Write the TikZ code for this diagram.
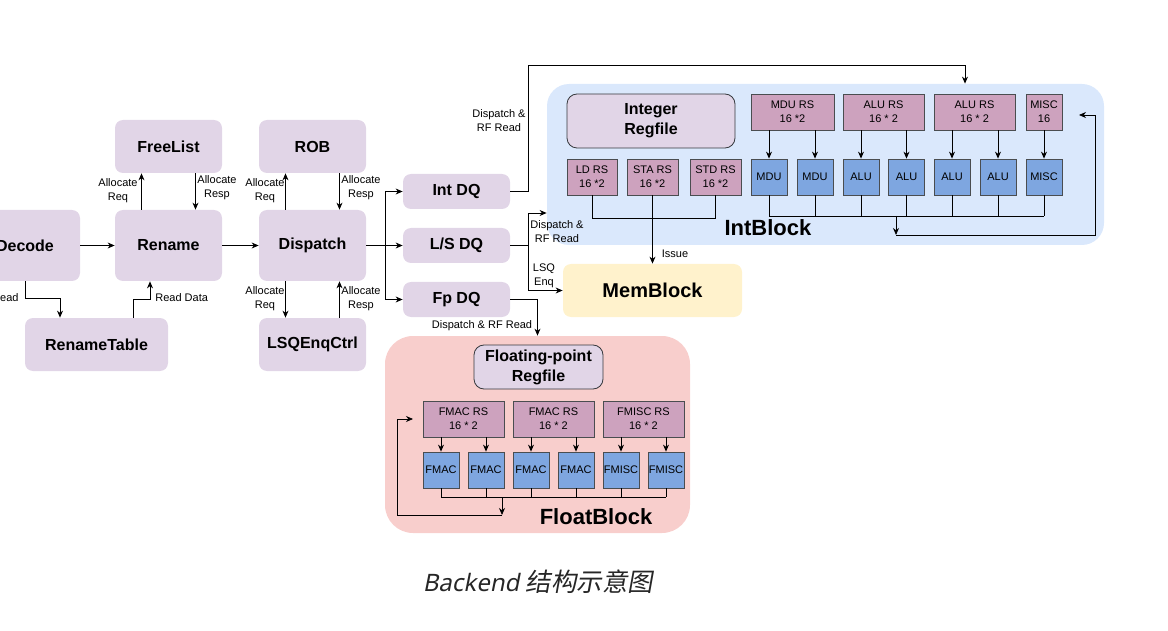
\documentclass[tikz,border=0pt]{standalone}
\usepackage{fontspec}
\setmainfont{Liberation Sans}
\newfontfamily\captionfont[FakeSlant=0.2]{Noto Sans}
\newfontfamily\cjkfont[FakeSlant=0.18]{Noto Sans CJK SC}
\usepackage{xcolor}
\usepackage{tikz}
\usetikzlibrary{arrows.meta,calc,positioning}
\definecolor{stagefill}{HTML}{E1D5E7}
\definecolor{intbg}{HTML}{DAE8FC}
\definecolor{floatbg}{HTML}{F8CECC}
\definecolor{memfill}{HTML}{FFF2CC}
\definecolor{rsfill}{HTML}{CDA2BE}
\definecolor{fufill}{HTML}{7EA6E0}
\definecolor{boxline}{HTML}{36393D}
\tikzstyle{stagebox} = [fill=stagefill, rounded corners=8pt, inner sep=0pt,
    minimum width=107pt, minimum height=53pt, font=\fontsize{16}{20}\selectfont\bfseries]
\tikzstyle{dqbox} = [stagebox, minimum height=35pt]
\tikzstyle{blockbg} = [rounded corners=22pt, inner sep=0pt]
\tikzstyle{blocktitle} = [font=\fontsize{22}{26}\selectfont\bfseries, inner sep=0pt]
\tikzstyle{regbox} = [draw=boxline, fill=stagefill, rounded corners=10pt, align=center,
    inner sep=0pt, font=\fontsize{16}{20}\selectfont\bfseries]
\tikzstyle{rsbox} = [draw=boxline!90, fill=rsfill, align=center, inner sep=0pt,
    minimum height=36pt, font=\fontsize{11}{14}\selectfont]
\tikzstyle{fubox} = [draw=boxline!90, fill=fufill, inner sep=0pt,
    minimum size=36pt, font=\fontsize{11}{14}\selectfont]
\tikzstyle{edgelabel} = [align=center, inner sep=0pt, font=\fontsize{11}{14}\selectfont]

\begin{document}
\begin{tikzpicture}[x=1pt,y=-1pt,>={Stealth[length=7pt,width=6pt]},line width=0.8pt]
\useasboundingbox (0,0) rectangle (1168,631);

% backend blocks
\node[blockbg, fill=intbg, minimum width=557pt, minimum height=161pt] (intblock) at (825.5,164.5) {};
\node[blockbg, fill=floatbg, minimum width=305pt, minimum height=197pt, rounded corners=28pt] (floatblock) at (537.5,434.5) {};
\node[blocktitle] (intlabel) at (768,228) {IntBlock};
\node[blocktitle] (floatlabel) at (596,517) {FloatBlock};
\node[stagebox, fill=memfill, minimum width=179pt, font=\fontsize{20}{24}\selectfont\bfseries] (memblock) at (652.5,290.5) {MemBlock};

% frontend stages
\node[stagebox, minimum width=110pt, minimum height=71pt] (decode) at (25,245.5) {Decode};
\node[stagebox, minimum height=71pt] (rename) at (168.5,245.5) {Rename};
\node[stagebox] (freelist) at (168.5,146.5) {FreeList};
\node[stagebox, minimum width=143pt] (renametable) at (96.5,344.5) {RenameTable};
\node[stagebox, minimum height=71pt] (dispatch) at (312.5,245.5) {Dispatch};
\node[stagebox] (rob) at (312.5,146.5) {ROB};
\node[stagebox] (lsqenqctrl) at (312.5,344.5) {LSQEnqCtrl};
\node[dqbox] (intdq) at (456.5,191.5) {Int DQ};
\node[dqbox] (lsdq) at (456.5,245.5) {L/S DQ};
\node[dqbox] (fpdq) at (456.5,299.5) {Fp DQ};

% integer block
\node[regbox, minimum width=168pt, minimum height=54pt] (intregfile) at (651,121) {Integer\\Regfile};
\node[rsbox, minimum width=83pt] (mdurs) at (792.5,112) {MDU RS\\16 *2};
\node[rsbox, minimum width=81pt] (alursa) at (883.5,112) {ALU RS\\16 * 2};
\node[rsbox, minimum width=81pt] (alursb) at (974.5,112) {ALU RS\\16 * 2};
\node[rsbox, minimum width=36pt] (miscrs) at (1044,112) {MISC\\16};
\node[rsbox, minimum width=50pt] (ldrs) at (592,177) {LD RS\\16 *2};
\node[rsbox, minimum width=51pt] (stars) at (652.5,177) {STA RS\\16 *2};
\node[rsbox, minimum width=51pt] (stdrs) at (715.5,177) {STD RS\\16 *2};
\node[fubox] (mdua) at (769,177) {MDU};
\node[fubox] (mdub) at (815,177) {MDU};
\node[fubox] (alua) at (861,177) {ALU};
\node[fubox] (alub) at (906.5,177) {ALU};
\node[fubox] (aluc) at (952,177) {ALU};
\node[fubox] (alud) at (998,177) {ALU};
\node[fubox] (miscu) at (1044,177) {MISC};

% float block
\node[regbox, minimum width=129pt, minimum height=44pt] (fpregfile) at (538.5,367) {Floating-point\\Regfile};
\node[rsbox, minimum width=81pt] (fmacrsa) at (463.5,419) {FMAC RS\\16 * 2};
\node[rsbox, minimum width=81pt] (fmacrsb) at (553.5,419) {FMAC RS\\16 * 2};
\node[rsbox, minimum width=81pt] (fmiscrs) at (643.5,419) {FMISC RS\\16 * 2};
\node[fubox] (fmaca) at (441,470) {FMAC};
\node[fubox] (fmacb) at (486,470) {FMAC};
\node[fubox] (fmacc) at (531,470) {FMAC};
\node[fubox] (fmacd) at (576,470) {FMAC};
\node[fubox] (fmisca) at (621,470) {FMISC};
\node[fubox] (fmiscb) at (666,470) {FMISC};

% rename / dispatch
\draw[->] (decode) -- (rename);
\draw[->] (rename) -- (dispatch);
\draw[->] (decode.south) -- ++(0,17) -| ([xshift=-36.5pt]renametable.north);
\draw[->] ([xshift=36.5pt]renametable.north) -- ++(0,-18) -| ([xshift=-18.5pt]rename.south);
\draw[->] ([xshift=-27pt]rename.north) -- ([xshift=-27pt]freelist.south);
\draw[->] ([xshift=27pt]freelist.south) -- ([xshift=27pt]rename.north);
\draw[->] ([xshift=-27pt]dispatch.north) -- ([xshift=-27pt]rob.south);
\draw[->] ([xshift=27pt]rob.south) -- ([xshift=27pt]dispatch.north);
\draw[->] ([xshift=-27pt]dispatch.south) -- ([xshift=-27pt]lsqenqctrl.north);
\draw[->] ([xshift=27pt]lsqenqctrl.north) -- ([xshift=27pt]dispatch.south);

\node[edgelabel, anchor=east] (readlbl) at (19,298) {Read};
\node[edgelabel, anchor=west] (readdatalbl) at (155,298) {Read Data};
\node[edgelabel] (flreq) at (118,191) {Allocate\\Req};
\node[edgelabel] (flresp) at (217,188) {Allocate\\Resp};
\node[edgelabel] (robreq) at (265,191) {Allocate\\Req};
\node[edgelabel] (robresp) at (361,188) {Allocate\\Resp};
\node[edgelabel] (lsqreq) at (265,299) {Allocate\\Req};
\node[edgelabel] (lsqresp) at (361,299) {Allocate\\Resp};

% dispatch queues
\coordinate (dqfork) at (385,245.5);
\draw (dispatch) -- (dqfork);
\draw[->] (dqfork) |- (intdq.west);
\draw[->] (dqfork) -- (lsdq.west);
\draw[->] (dqfork) |- (fpdq.west);

\draw[->] (intdq.east) -- ++(18,0) |- ($(intblock.north)+(139.5,-18)$) -- ([xshift=139.5pt]intblock.north);
\coordinate (lsfork) at (528,245.5);
\draw (lsdq.east) -- (lsfork);
\draw[->] (lsfork) |- ([yshift=-48.5pt]intblock.west);
\draw[->] (lsfork) |- (memblock.west);
\draw[->] (fpdq.east) -| (floatblock.north);
\draw[->] (stars.south) -- (memblock.north);
\draw (ldrs.south) -- ++(0,23) -| (stdrs.south);

\node[edgelabel] (intdqlbl) at (499,121) {Dispatch \&\\RF Read};
\node[edgelabel] (lsdqlbl) at (557,232) {Dispatch \&\\RF Read};
\node[edgelabel] (enqlbl) at (544,276) {LSQ\\Enq};
\node[edgelabel] (fpdqlbl) at (482,326) {Dispatch \& RF Read};
\node[edgelabel] (issuelbl) at (675,254) {Issue};

% issue and writeback, integer
\foreach \r/\u in {mdurs/mdua,mdurs/mdub,alursa/alua,alursa/alub,alursb/aluc,alursb/alud,miscrs/miscu}
  \draw[->] (\r.south -| \u.north) -- (\u.north);
\foreach \u in {mdua,mdub,alua,alub,aluc,alud,miscu}
  \draw (\u.south) -- ++(0,21);
\draw ($(mdua.south)+(0,21)$) -- ($(miscu.south)+(0,21)$);
\coordinate (intbus) at (896,216);
\coordinate (intmerge) at (896,235);
\coordinate (intturn) at (1095,235);
\coordinate (intret) at (1079,115);
\draw[->] (intbus) -- (intmerge);
\draw[->] (intmerge) -- (intturn) |- (intret);

% issue and writeback, float
\foreach \r/\u in {fmacrsa/fmaca,fmacrsa/fmacb,fmacrsb/fmacc,fmacrsb/fmacd,fmiscrs/fmisca,fmiscrs/fmiscb}
  \draw[->] (\r.south -| \u.north) -- (\u.north);
\foreach \u in {fmaca,fmacb,fmacc,fmacd,fmisca,fmiscb}
  \draw (\u.south) -- ++(0,9);
\draw ($(fmaca.south)+(0,9)$) -- ($(fmiscb.south)+(0,9)$);
\coordinate (fpbus) at (502,497);
\coordinate (fpmerge) at (502,515);
\coordinate (fpturn) at (397,515);
\coordinate (fpret) at (413,419);
\draw[->] (fpbus) -- (fpmerge);
\draw[->] (fpmerge) -- (fpturn) |- (fpret);

\node[text=black!85, inner sep=0pt, font=\fontsize{24}{28}\selectfont] (caption) at (538,582)
  {\captionfont Backend {\fontsize{25.5}{28}\selectfont\cjkfont 结构示意图}};
\end{tikzpicture}
\end{document}
